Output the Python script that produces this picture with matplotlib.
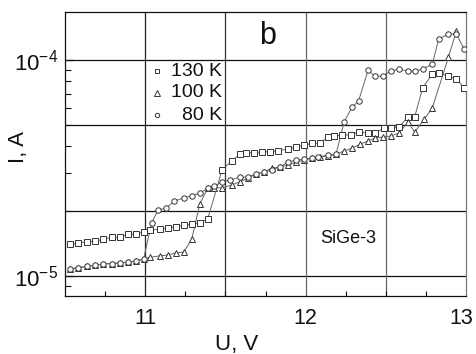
import numpy as np
import matplotlib
matplotlib.use("Agg")
import matplotlib.pyplot as plt
from matplotlib.ticker import FixedLocator, NullFormatter, FixedFormatter
from matplotlib.transforms import ScaledTranslation

plt.rcParams['font.family'] = ['Liberation Sans', 'DejaVu Sans']
plt.rcParams['mathtext.fontset'] = 'custom'
plt.rcParams['mathtext.rm'] = 'Liberation Sans'
plt.rcParams['mathtext.it'] = 'Liberation Sans:italic'

# ---- data (I in units of 1e-5 A) ----
u_130 = [10.53, 10.58, 10.64, 10.69, 10.74, 10.79, 10.84, 10.89, 10.94, 10.99,
         11.03, 11.09, 11.14, 11.19, 11.24, 11.29, 11.34, 11.39, 11.48, 11.54,
         11.59, 11.63, 11.68, 11.73, 11.78, 11.83, 11.89, 11.94, 11.99, 12.04,
         12.09, 12.14, 12.18, 12.23, 12.28, 12.33, 12.39, 12.43, 12.49, 12.53,
         12.58, 12.64, 12.68, 12.73, 12.79, 12.83, 12.89, 12.94, 12.99]
i_130 = [1.40, 1.42, 1.44, 1.45, 1.48, 1.51, 1.51, 1.56, 1.56, 1.60,
         1.63, 1.65, 1.67, 1.69, 1.72, 1.74, 1.76, 1.84, 3.11, 3.41,
         3.67, 3.71, 3.73, 3.75, 3.77, 3.81, 3.87, 3.95, 4.04, 4.11,
         4.13, 4.40, 4.45, 4.50, 4.50, 4.64, 4.59, 4.59, 4.84, 4.84,
         4.90, 5.45, 5.45, 7.45, 8.60, 8.70, 8.43, 8.17, 7.42]

u_100 = [10.53, 10.58, 10.64, 10.69, 10.74, 10.79, 10.84, 10.89, 10.94, 10.99,
         11.03, 11.09, 11.14, 11.19, 11.24, 11.29, 11.34, 11.39, 11.43, 11.48,
         11.54, 11.59, 11.64, 11.69, 11.74, 11.79, 11.84, 11.89, 11.94, 11.99,
         12.04, 12.09, 12.14, 12.19, 12.24, 12.29, 12.34, 12.39, 12.43, 12.48,
         12.53, 12.58, 12.64, 12.68, 12.74, 12.79, 12.89, 12.94]
i_100 = [1.08, 1.09, 1.11, 1.12, 1.14, 1.14, 1.15, 1.16, 1.17, 1.20,
         1.22, 1.24, 1.25, 1.28, 1.29, 1.48, 2.15, 2.56, 2.56, 2.56,
         2.64, 2.73, 2.84, 2.97, 3.03, 3.16, 3.20, 3.27, 3.37, 3.44,
         3.52, 3.56, 3.59, 3.67, 3.79, 3.91, 4.08, 4.22, 4.35, 4.40,
         4.45, 4.59, 5.16, 4.64, 5.33, 6.00, 10.3, 13.6]

u_80 = [10.53, 10.58, 10.64, 10.69, 10.74, 10.79, 10.84, 10.89, 10.94, 10.99,
        11.04, 11.08, 11.13, 11.18, 11.24, 11.29, 11.34, 11.39, 11.43, 11.48,
        11.53, 11.59, 11.64, 11.69, 11.74, 11.79, 11.84, 11.89, 11.94, 11.99,
        12.04, 12.08, 12.14, 12.19, 12.24, 12.29, 12.33, 12.39, 12.43, 12.48,
        12.53, 12.58, 12.64, 12.68, 12.73, 12.79, 12.83, 12.89, 12.94, 12.99]
i_80 = [1.08, 1.09, 1.11, 1.12, 1.14, 1.14, 1.15, 1.16, 1.17, 1.20,
        1.76, 2.02, 2.06, 2.22, 2.30, 2.35, 2.42, 2.55, 2.61, 2.72,
        2.78, 2.87, 2.87, 2.97, 3.03, 3.10, 3.20, 3.37, 3.44, 3.48,
        3.52, 3.56, 3.63, 3.67, 5.16, 6.06, 6.46, 8.99, 8.43, 8.43,
        8.89, 9.08, 8.89, 8.89, 9.08, 9.58, 12.5, 13.2, 13.2, 11.2]

series = [
    ("130 K", u_130, i_130, 's', 4.4),
    ("100 K", u_100, i_100, '^', 4.8),
    ("80 K", u_80, i_80, 'o', 3.9),
]
x_ticks_labeled = [11, 12, 13]
y_ticks_labeled = [1e-5, 1e-4]

fig = plt.figure(figsize=(4.76, 3.54), dpi=100)
ax = fig.add_axes([65/476, 1-296/354, (466-65)/476, (296-12)/354])

ax.set_xlim(10.5, 13.0)
ax.set_yscale('log')
ax.set_ylim(8.08e-6, 1.67e-4)

# grid
for yv in [1e-5, 2e-5, 5e-5, 1e-4]:
    ax.axhline(yv, color='#111111', lw=0.9, zorder=1)
for xv, c in [(11, '#222222'), (11.5, '#333333'), (12, '#666666'), (12.5, '#666666')]:
    ax.axvline(xv, color=c, lw=0.9, zorder=1)

for name, u, i, m, ms in series:
    ii = np.array(i) * 1e-5
    ax.plot(u, ii, '-', color='#666666', lw=0.7, zorder=2)
    ax.plot(u, ii, linestyle='none', marker=m, ms=ms, mfc='white',
            mec='#333333', mew=0.7, zorder=3)

# manual legend (markers left, labels right-aligned)
leg_y = [0.792, 0.715, 0.637]
for (name, u, i, m, ms), yy in zip(series, leg_y):
    ax.plot([0.229], [yy], transform=ax.transAxes, linestyle='none', marker=m,
            ms=ms * 0.8, mfc='white', mec='#333333', mew=0.7, zorder=4)
    ax.text(0.392, yy, name, transform=ax.transAxes, fontsize=14, ha='right',
            va='center', color='#111111', zorder=4)

# ticks
ax.xaxis.set_major_locator(FixedLocator(x_ticks_labeled))
ax.xaxis.set_major_formatter(FixedFormatter([str(v) for v in x_ticks_labeled]))
ax.xaxis.set_minor_locator(FixedLocator(np.arange(10.75, 13.0, 0.25)))
ax.yaxis.set_major_locator(FixedLocator(y_ticks_labeled))
ax.yaxis.set_major_formatter(FixedFormatter([r'$\mathregular{10^{-5}}$', r'$\mathregular{10^{-4}}$']))
ax.yaxis.set_minor_locator(FixedLocator([9e-6] + [k*1e-5 for k in range(2, 10)]))
ax.yaxis.set_minor_formatter(NullFormatter())
ax.tick_params(axis='both', which='both', direction='in', colors='#111111')
ax.tick_params(axis='x', which='major', length=0, labelsize=15.5, pad=9)
ax.tick_params(axis='x', which='minor', length=3.5, width=0.8)
ax.tick_params(axis='y', which='major', length=6, width=0.9, labelsize=16, pad=5)
ax.tick_params(axis='y', which='minor', length=4, width=0.8)

for s in ['left', 'bottom', 'top']:
    ax.spines[s].set_color('#111111')
    ax.spines[s].set_linewidth(0.9)
ax.spines['right'].set_color('#777777')
ax.spines['right'].set_linewidth(0.9)

ax.set_xlabel('U, V', fontsize=16, color='#111111')
ax.set_ylabel('I, A', fontsize=16, color='#111111')
ax.xaxis.set_label_coords(0.429, -0.134)
ax.yaxis.label.set_va('center')
ax.yaxis.set_label_coords(-0.117, 0.525)

ax.text(0.505, 0.915, 'b', transform=ax.transAxes, fontsize=22, ha='center',
        va='center', color='#111111')
ax.text(0.706, 0.204, 'SiGe-3', transform=ax.transAxes, fontsize=13, ha='center',
        va='center', color='#111111')

fig.canvas.draw()
lbls = ax.get_xticklabels()
lbls[-1].set_transform(lbls[-1].get_transform() + ScaledTranslation(-5/100, 0, fig.dpi_scale_trans))

fig.savefig('out.png', dpi=100)
